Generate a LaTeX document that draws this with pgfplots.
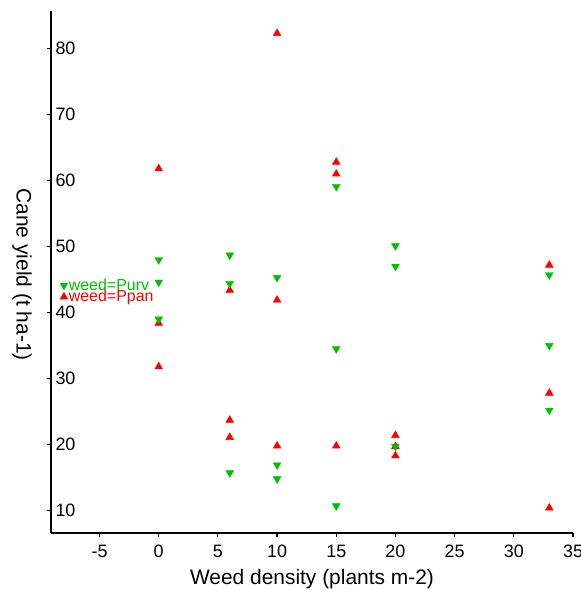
\documentclass[border=0pt]{standalone}
\usepackage{fontspec}
\setmainfont{Liberation Sans}
\usepackage{pgfplots}
\pgfplotsset{compat=1.18}
\definecolor{wgreen}{RGB}{0,192,0}
\definecolor{wred}{RGB}{255,0,0}
\begin{document}
\begin{tikzpicture}
\begin{axis}[
  name=ax,
  scale only axis,
  width=522bp, height=522bp,
  xmin=-9.1, xmax=35, ymin=6.6, ymax=85.7,
  axis lines=left,
  axis line style={-, line width=1.3bp, black},
  xtick={-5,0,5,10,15,20,25,30,35},
  ytick={10,20,30,40,50,60,70,80},
  tick align=outside,
  major tick length=4bp,
  tick style={line width=1.2bp, black},
  /pgf/number format/assume math mode=true,
  ticklabel style={font=\fontsize{18}{21}\selectfont},
  yticklabel style={anchor=west, xshift=5bp},
  xticklabel style={anchor=base, yshift=-20bp},
  xlabel={Weed density (plants m-2)},
  ylabel={Cane yield (t ha-1)},
  label style={font=\fontsize{21}{24}\selectfont},
  xlabel style={at={(rel axis cs:0.5,0)}, anchor=base, yshift=-51bp},
  ylabel style={at={(rel axis cs:-0.0556,0.495)}, anchor=center, rotate=180},
  clip=false,
  reverse legend,
  legend cell align=left,
  legend image code/.code={\draw[#1] plot coordinates {(0cm,0cm)};},
  legend style={at={(axis cs:-8.35,45.3)}, anchor=north west, draw=none, fill=none,
    inner sep=0pt, row sep=-3.5bp, font=\fontsize{16}{16}\selectfont,
    nodes={inner sep=1bp}},
]
\addplot[only marks, mark=triangle*, mark size=4.5bp, color=wred, mark options={draw=wred, fill=wred}]
coordinates {
(0,61.8) (0,38.4) (0,31.8)
(6,43.4) (6,23.7) (6,21.1)
(10,82.3) (10,41.9) (10,19.8)
(15,62.8) (15,61.0) (15,19.8)
(20,21.4) (20,19.7) (20,18.3)
(33,47.2) (33,27.8) (33,10.4)
};
\addlegendentry{\textcolor{wred}{weed=Ppan}}
\addplot[only marks, mark=triangle*, mark size=4.5bp, color=wgreen, mark options={draw=wgreen, fill=wgreen, rotate=180}]
coordinates {
(0,48.0) (0,44.6) (0,39.0)
(6,48.7) (6,44.4) (6,15.7)
(10,45.3) (10,16.9) (10,14.8)
(15,59.1) (15,34.5) (15,10.7)
(20,50.1) (20,47.0) (20,19.7)
(33,45.7) (33,35.0) (33,25.2)
};
\addlegendentry{\textcolor{wgreen}{weed=Purv}}
\end{axis}
\pgfresetboundingbox
\path ([xshift=-51bp,yshift=-57bp]ax.south west) rectangle ([xshift=8bp,yshift=11bp]ax.north east);
\end{tikzpicture}
\end{document}
